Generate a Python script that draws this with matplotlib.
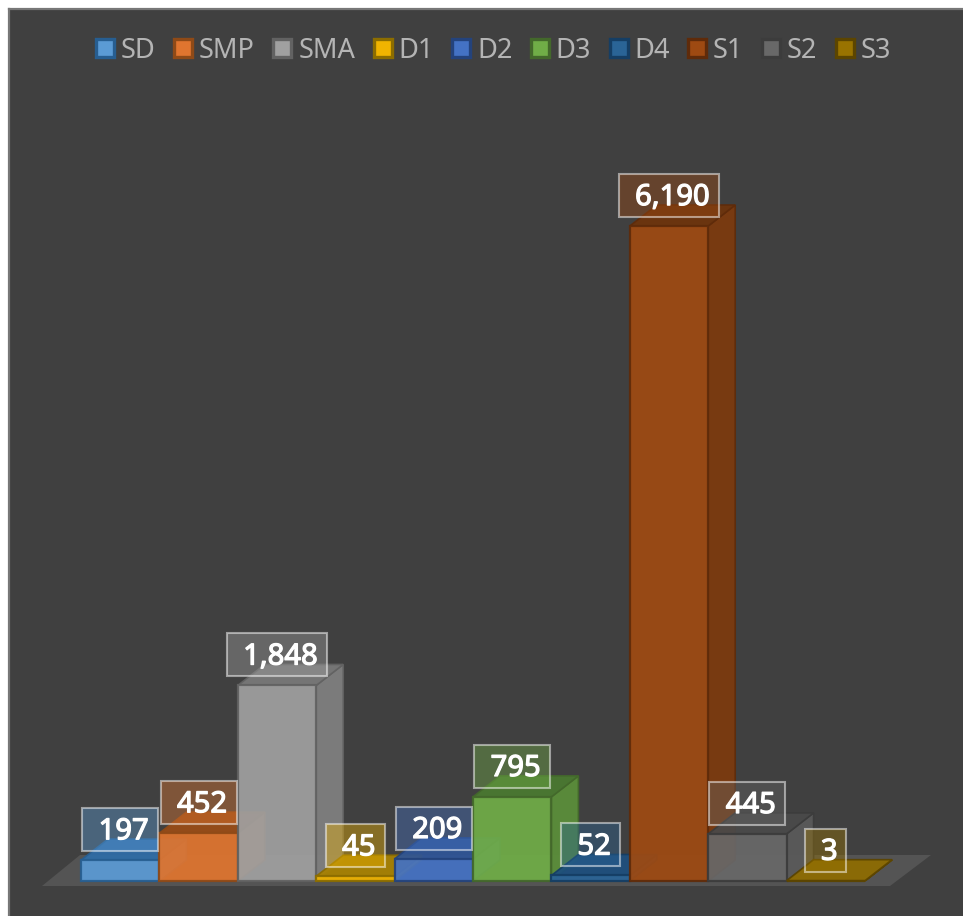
import matplotlib
matplotlib.use("Agg")
import matplotlib.pyplot as plt
import matplotlib.patheffects as pe
from matplotlib.colors import to_rgba
from matplotlib.patches import Polygon, Rectangle, Patch

categories = ["SD", "SMP", "SMA", "D1", "D2", "D3", "D4", "S1", "S2", "S3"]
values = [197, 452, 1848, 45, 209, 795, 52, 6190, 445, 3]
face_colors = ["#5b9bd5", "#e0752f", "#a0a0a0", "#f0b400", "#4472c4",
               "#70ad47", "#2a6496", "#9e4a12", "#686868", "#997300"]
edge_colors = ["#275e91", "#8f4a17", "#626262", "#8c6d00", "#24437c",
               "#43682b", "#153e64", "#5f2b0a", "#3c3c3c", "#5c4500"]
top_colors = ["#2f6da8", "#9a4c16", "#7a7a7a", "#a98200", "#2f5597",
              "#4a7a30", "#1c4e7e", "#6e340c", "#4a4a4a", "#8f6c00"]
side_colors = ["#4a85bd", "#b8622a", "#808080", "#c49a00", "#3a62a8",
               "#5b8f3a", "#235583", "#7d3a0e", "#5a5a5a", "#806000"]

BG = "#404040"
W, H = 963, 916
PX_PER_CAT = 78.4
PX_PER_VAL = 655 / 6190
X0_PX, Y0_PX = 81, 881


def xd(px):
    return (px - X0_PX) / PX_PER_CAT - 0.5


def yd(py):
    return (Y0_PX - py) / PX_PER_VAL


fig = plt.figure(figsize=(W / 100, H / 100), dpi=100, facecolor="white")
ax = fig.add_axes([9 / W, 0, (W - 9) / W, (H - 9) / H], facecolor=BG)
ax.set_xlim(xd(9), xd(W))
ax.set_ylim(yd(H), yd(9))
ax.set_xticks([])
ax.set_yticks([])
for s in ("right", "bottom"):
    ax.spines[s].set_visible(False)
for s in ("left", "top"):
    ax.spines[s].set_color("#777777")
    ax.spines[s].set_linewidth(1.6)

# floor
ax.add_patch(Polygon([(xd(42), yd(886)), (xd(890), yd(886)), (xd(931), yd(855)), (xd(80), yd(855))],
                     closed=True, fc="#545454", ec="none", zorder=1))

depth_x = 27 / PX_PER_CAT
depth_y = 21 / PX_PER_VAL
ALPHA = 0.93

for i, (v, fc, ec, tc, sc) in enumerate(zip(values, face_colors, edge_colors, top_colors, side_colors)):
    z = 2 + i
    r = i + 0.5
    l = i - 0.5
    ax.add_patch(Polygon([(r, 0), (r + depth_x, depth_y), (r + depth_x, v + depth_y), (r, v)],
                         closed=True, fc=sc, ec=ec, lw=1.2, alpha=ALPHA, zorder=z))
    ax.add_patch(Polygon([(l, v), (r, v), (r + depth_x, v + depth_y), (l + depth_x, v + depth_y)],
                         closed=True, fc=tc, ec=ec, lw=1.2, alpha=ALPHA, zorder=z))
    ax.bar(i, v, width=1.0, color=fc, edgecolor=ec, linewidth=1.6, alpha=ALPHA, zorder=z + 0.5)

box_widths = {1: 41, 2: 59, 3: 76, 5: 100}
BOX_H = 43
LABEL_RISE = 30.5
for i, v in enumerate(values):
    txt = f"{v:,}"
    w = box_widths[len(txt)] / PX_PER_CAT
    cy = v + LABEL_RISE / PX_PER_VAL
    h = BOX_H / PX_PER_VAL
    ax.add_patch(Rectangle((i - w / 2, cy - h / 2), w, h, fc=to_rgba(face_colors[i], 0.4), ec=(1, 1, 1, 0.5),
                           lw=1.5, zorder=20))
    ax.annotate(txt, xy=(i, cy), xytext=(2.5, 1), textcoords="offset points", ha="center", va="center_baseline",
                color="white", fontsize=21, family="Noto Sans", zorder=21,
                path_effects=[pe.withStroke(linewidth=0.9, foreground="white")])

handles = [Patch(facecolor=f, edgecolor=e, linewidth=2.4) for f, e in zip(face_colors, edge_colors)]
leg = ax.legend(handles, categories, ncols=10, loc="center", bbox_to_anchor=((493.5 - 9) / (W - 9), 1 - (50.5 - 9) / (H - 9)),
                frameon=False, prop={"family": "Noto Sans", "size": 19.6},
                labelcolor="#b4b4b4", handlelength=0.66, handleheight=0.68, handletextpad=0.25,
                columnspacing=0.68, borderpad=0, borderaxespad=0)

fig.savefig("out.png", dpi=100, facecolor=fig.get_facecolor())
